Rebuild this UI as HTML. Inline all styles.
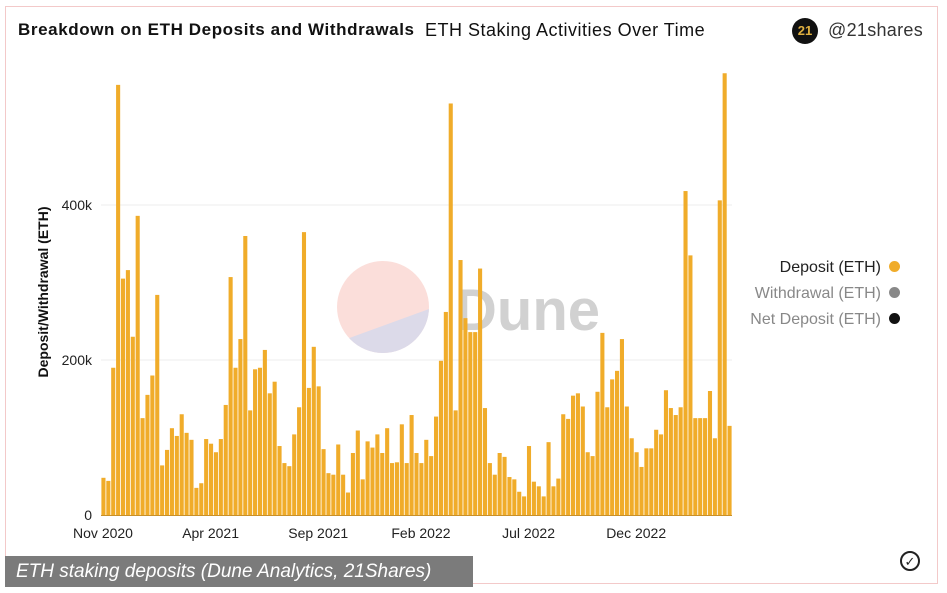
<!DOCTYPE html>
<html><head><meta charset="utf-8"><style>
body{margin:0;background:#fff;font-family:"Liberation Sans",sans-serif;}
#wrap{position:relative;width:947px;height:593px;overflow:hidden;background:#fff;}
.frame{position:absolute;left:5px;top:6px;width:933px;height:578px;border:1px solid #f3c9c9;box-sizing:border-box;}
.t{position:absolute;white-space:nowrap;}
.lg{right:47px;font-size:16px;text-align:right}
.dot{display:inline-block;width:11px;height:11px;border-radius:50%;margin-left:8px}
</style></head><body>
<div id="wrap">
<div class="frame"></div>
<div class="t" style="left:18px;top:20px;font-size:17px;font-weight:bold;color:#111;letter-spacing:0.6px">Breakdown on ETH Deposits and Withdrawals</div>
<div class="t" style="left:425px;top:20px;font-size:18px;color:#111;letter-spacing:0.5px">ETH Staking Activities Over Time</div>
<div class="t" style="left:792px;top:18px;width:26px;height:26px;border-radius:50%;background:#111;color:#e0b040;font-size:13px;font-weight:bold;text-align:center;line-height:26px">21</div>
<div class="t" style="left:828px;top:20px;font-size:18px;color:#333;letter-spacing:0.3px">@21shares</div>
<div class="t lg" style="top:259px;color:#222">Deposit (ETH)<span class="dot" style="background:#f0ac2a"></span></div>
<div class="t lg" style="top:285px;color:#888">Withdrawal (ETH)<span class="dot" style="background:#888"></span></div>
<div class="t lg" style="top:311px;color:#888">Net Deposit (ETH)<span class="dot" style="background:#111"></span></div>
<svg id="chart" width="947" height="593" style="position:absolute;left:0;top:0">
<g opacity="0.85">
<clipPath id="cc"><circle cx="383" cy="307" r="46"/></clipPath>
<g clip-path="url(#cc)"><rect x="330" y="250" width="110" height="120" fill="#fbd9d4"/><polygon points="330,345 440,305 440,370 330,370" fill="#d6d4e6"/></g>
<text x="455" y="330" font-size="58" font-weight="bold" fill="#c9c9c9" font-family="Liberation Sans, sans-serif">Dune</text>
</g>
<text transform="translate(48,292) rotate(-90)" text-anchor="middle" font-size="14" font-weight="bold" fill="#111">Deposit/Withdrawal (ETH)</text>
<g id="grid"></g><g id="bars"></g><g id="axes"></g>
</svg>
<div class="t" style="left:5px;top:556px;width:468px;height:31px;background:#7b7b7b;color:#fff;font-style:italic;font-size:19px;line-height:31px;padding-left:11px;box-sizing:border-box">ETH staking deposits (Dune Analytics, 21Shares)</div>
<div class="t" style="left:900px;top:551px;width:20px;height:20px;border:2px solid #222;border-radius:50%;box-sizing:border-box;text-align:center;font-size:13px;line-height:17px;color:#222">✓</div>
</div>
<script>
const deposits=[48,44,190,555,305,316,230,386,125,155,180,284,64,84,112,102,130,106,97,35,41,98,92,81,98,142,307,190,227,360,135,188,190,213,157,172,89,67,63,104,139,365,164,217,166,85,54,52,91,52,29,80,109,46,95,87,104,80,112,67,68,117,67,129,80,67,97,76,127,199,262,531,135,329,254,236,236,318,138,67,52,80,75,49,46,30,24,89,43,37,24,94,37,47,130,124,154,157,140,81,76,159,235,139,175,186,227,140,99,81,62,86,86,110,104,161,138,129,139,418,335,125,125,125,160,99,406,570,115];
const xTickLabels=["Nov 2020","Apr 2021","Sep 2021","Feb 2022","Jul 2022","Dec 2022"];
const xTickIdx=[0,22,44,65,87,109];
const yTicks=[0,200,400];
const yTickLabels=["0","200k","400k"];
const NS="http://www.w3.org/2000/svg";
const x0=101,x1=732,y0=515,kpp=0.775;
const n=deposits.length,pitch=(x1-x0)/n;
const xs=i=>x0+i*pitch, ys=v=>y0-v*kpp;
function mk(t,a,p){const e=document.createElementNS(NS,t);for(const k in a)e.setAttribute(k,a[k]);p.appendChild(e);return e;}
const g=document.getElementById('grid'),b=document.getElementById('bars'),ax=document.getElementById('axes');
yTicks.forEach((v,i)=>{
 if(v>0){const l=mk('line',{x1:x0,x2:x1,y1:ys(v),y2:ys(v),stroke:'#eee'},g);
 
 }
 const t=mk('text',{x:92,y:ys(v)+5,'text-anchor':'end','font-size':14,fill:'#222'},ax);t.textContent=yTickLabels[i];
 
 
});
deposits.forEach((v,i)=>{
 const r=mk('rect',{x:xs(i)+0.4,y:ys(v),width:pitch-0.8,height:v*kpp,fill:'#f0ac2a'},b);
 
 
});
const bl=mk('line',{x1:x0,x2:x1,y1:y0+0.5,y2:y0+0.5,stroke:'#c8902a'},ax);


xTickLabels.forEach((s,i)=>{
 const t=mk('text',{x:xs(xTickIdx[i])+2,y:538,'text-anchor':'middle','font-size':14,fill:'#222'},ax);t.textContent=s;
 
 
});
</script>
</body></html>
